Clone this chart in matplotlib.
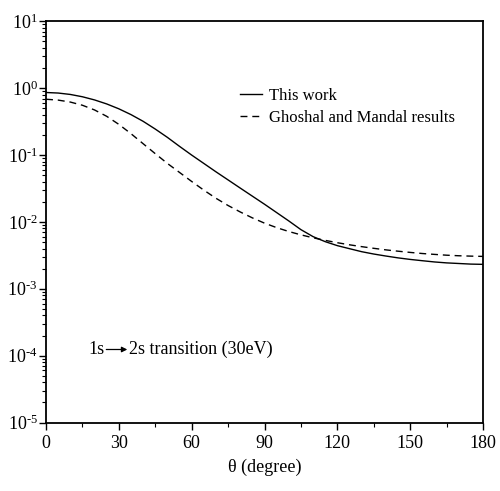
import math
import matplotlib

matplotlib.use("Agg")
import matplotlib.pyplot as plt
from matplotlib.ticker import LogLocator, FixedLocator, FuncFormatter, NullFormatter

plt.rcParams["font.family"] = ["Liberation Serif", "DejaVu Serif"]
plt.rcParams["mathtext.fontset"] = "custom"
plt.rcParams["mathtext.rm"] = "Liberation Serif"
plt.rcParams["mathtext.it"] = "Liberation Serif:italic"

# scattering angle (degree)
theta = [0, 5, 10, 15, 20, 25, 30, 35, 40, 45, 50, 55, 60, 65, 70, 75, 80, 85, 90,
         95, 100, 105, 110, 115, 120, 125, 130, 135, 140, 145, 150, 155, 160, 165,
         170, 175, 180]

# differential cross section, this work
dcs_this = [0.863, 0.847, 0.807, 0.745, 0.668, 0.582, 0.492, 0.403, 0.320, 0.245,
            0.184, 0.135, 0.100, 0.0750, 0.0562, 0.0425, 0.0321, 0.0243, 0.0184,
            0.0138, 0.01035, 0.00767, 0.00603, 0.00507, 0.00442, 0.00398, 0.00359,
            0.00331, 0.00309, 0.00290, 0.00275, 0.00263, 0.00252, 0.00244, 0.00239,
            0.00234, 0.00232]

# Ghoshal and Mandal
dcs_gm = [0.684, 0.664, 0.621, 0.556, 0.473, 0.380, 0.288, 0.209, 0.148, 0.105,
          0.0750, 0.0550, 0.0403, 0.0299, 0.0226, 0.0176, 0.0141, 0.0115, 0.00959,
          0.00822, 0.00719, 0.00641, 0.00579, 0.00530, 0.00489, 0.00455, 0.00427,
          0.00403, 0.00382, 0.00365, 0.00350, 0.00337, 0.00327, 0.00318, 0.00312,
          0.00308, 0.00305]

fig = plt.figure(figsize=(5.0, 4.91), dpi=100)
ax = fig.add_axes([0.092, 0.1395, 0.874, 0.817])

ax.plot(theta, dcs_this, color="black", linewidth=1.0, label="This work")
ax.plot(theta, dcs_gm, color="black", linewidth=1.0, linestyle=(0, (5, 3.5)),
        label="Ghoshal and Mandal results")

ax.set_yscale("log")
ax.set_xlim(0, 180)
ax.set_ylim(1e-5, 1e1)
ax.set_xticks([0, 30, 60, 90, 120, 150, 180])
ax.set_xticks([15, 45, 75, 105, 135, 165], minor=True)
ax.yaxis.set_major_locator(FixedLocator([1e-5, 1e-4, 1e-3, 1e-2, 1e-1, 1e0, 1e1]))
ax.yaxis.set_minor_locator(LogLocator(base=10, subs=range(2, 10), numticks=20))
ax.yaxis.set_minor_formatter(NullFormatter())


def exp_label(v, pos):
    e = int(round(math.log10(v)))
    if e < 0:
        return r"$10^{\text{-}%d}$" % (-e)
    return r"$10^{%d}$" % e


ax.yaxis.set_major_formatter(FuncFormatter(exp_label))

for side in ["top", "right", "bottom", "left"]:
    ax.spines[side].set_linewidth(1.3)

ax.tick_params(axis="both", which="major", direction="out", length=5, width=1.0,
               labelsize=13, top=False, right=False)
ax.tick_params(axis="both", which="minor", direction="out", length=3, width=0.8,
               top=False, right=False)
ax.tick_params(axis="y", which="major", pad=1)
ax.tick_params(axis="x", which="major", pad=4)

ax.set_xlabel("θ (degree)", fontsize=13, labelpad=5)

ax.legend(loc="upper left", bbox_to_anchor=(0.444, 0.835), frameon=False,
          fontsize=12, handlelength=1.3, handletextpad=0.45, labelspacing=0.38,
          borderpad=0, borderaxespad=0)

# 1s -> 2s label with a drawn arrow
ty = 0.182
ax.text(0.096, ty, "1s", transform=ax.transAxes, fontsize=13, ha="left", va="center")
ax.annotate("", xy=(0.186, ty), xytext=(0.138, ty), xycoords="axes fraction",
            arrowprops=dict(arrowstyle="-|>", color="black", lw=0.9,
                            mutation_scale=8, shrinkA=0, shrinkB=0))
ax.text(0.190, ty, "2s transition (30eV)", transform=ax.transAxes, fontsize=13,
        ha="left", va="center")

fig.savefig("out.png", dpi=100)
